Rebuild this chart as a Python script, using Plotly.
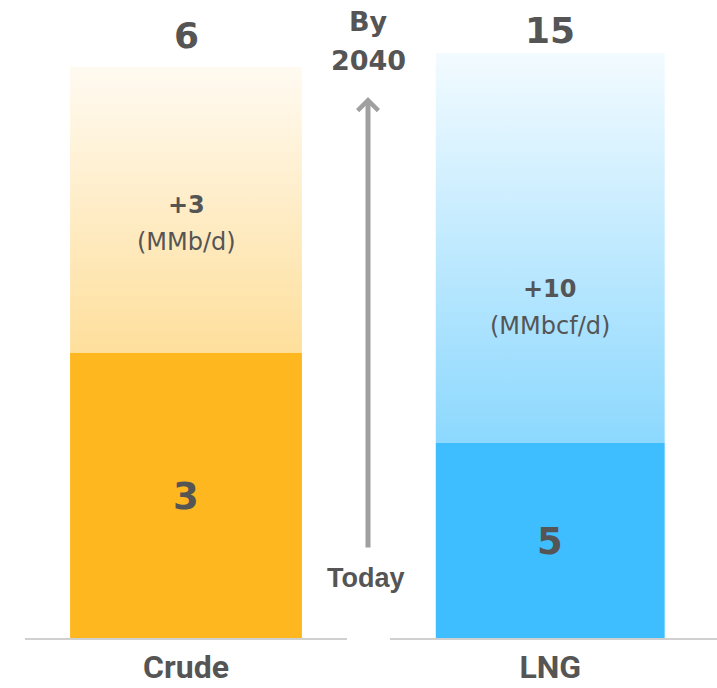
import plotly.graph_objects as go

# Export volumes: today vs. growth by 2040
categories = ["Crude", "LNG"]
today_values = [3, 5]
added_values = [3, 10]
units = ["(MMb/d)", "(MMbcf/d)"]

base_colors = ["#FFB71F", "#3EBEFE"]
grad_bottom = ["#FEDF9C", "#8CD8FE"]
grad_top = ["#FFFAF1", "#F3FBFF"]
bar_widths = [0.72, 0.70]

TEXT = "#555555"
NUM_FONT = "DejaVu Sans"
WORD_FONT = "Liberation Sans"

fig = go.Figure()

axis_ids = [("x", "y"), ("x2", "y2")]
for i, cat in enumerate(categories):
    xa, ya = axis_ids[i]
    base = today_values[i]
    total = base + added_values[i]
    w = bar_widths[i]

    # solid bar for today's level
    fig.add_trace(go.Bar(
        x=[0], y=[base], width=w, xaxis=xa, yaxis=ya,
        marker=dict(color=base_colors[i], line=dict(width=0)),
        hoverinfo="skip", showlegend=False,
    ))
    # gradient block for the growth to 2040
    fig.add_trace(go.Scatter(
        x=[-w / 2, w / 2, w / 2, -w / 2, -w / 2],
        y=[base, base, total, total, base],
        xaxis=xa, yaxis=ya, mode="lines", line=dict(width=0),
        fill="toself",
        fillgradient=dict(type="vertical",
                          colorscale=[[0, grad_bottom[i]], [1, grad_top[i]]]),
        hoverinfo="skip", showlegend=False,
    ))

    # value labels
    fig.add_annotation(x=0, y=base / 2, xref=xa, yref=ya, text=str(base),
                       showarrow=False, yshift=-1,
                       font=dict(family=NUM_FONT, size=37, color=TEXT, weight="bold"))
    fig.add_annotation(x=0, y=total, xref=xa, yref=ya, text=str(total),
                       showarrow=False, yanchor="middle",
                       yshift=[32, 23][i],
                       font=dict(family=NUM_FONT, size=36, color=TEXT, weight="bold"))
    fig.add_annotation(x=0, y=base + added_values[i] / 2, xref=xa, yref=ya,
                       text=f"+{added_values[i]}",
                       showarrow=False, yanchor="middle",
                       yshift=[5, -41][i],
                       font=dict(family=NUM_FONT, size=24, color=TEXT, weight="bold"))
    fig.add_annotation(x=0, y=base + added_values[i] / 2, xref=xa, yref=ya,
                       text=units[i],
                       showarrow=False, yanchor="middle",
                       yshift=[-32, -78][i],
                       font=dict(family=NUM_FONT, size=24, color=TEXT))

# timeline arrow between the two bars
fig.add_annotation(x=368 / 717, y=(638 - 97) / 638, xref="paper", yref="paper",
                   ax=0, ay=452, axref="pixel", ayref="pixel", text="",
                   showarrow=True, arrowhead=4, arrowsize=0.8, arrowwidth=5,
                   arrowcolor="#A0A0A0")
fig.add_annotation(x=368 / 717, y=(638 - 22) / 638, xref="paper", yref="paper",
                   text="By", showarrow=False, yanchor="middle",
                   font=dict(family=NUM_FONT, size=27, color=TEXT, weight="bold"))
fig.add_annotation(x=368 / 717, y=(638 - 60) / 638, xref="paper", yref="paper",
                   text="2040", showarrow=False, yanchor="middle",
                   font=dict(family=NUM_FONT, size=27, color=TEXT, weight="bold"))
fig.add_annotation(x=366 / 717, y=(638 - 578) / 638, xref="paper", yref="paper",
                   text="Today", showarrow=False, yanchor="middle",
                   font=dict(family=WORD_FONT, size=27, color=TEXT, weight="bold"))

xaxis_common = dict(
    showline=True, linecolor="#D0D0D0", linewidth=2, showgrid=False,
    zeroline=False, ticks="", tickvals=[0],
    tickfont=dict(family="Roboto", size=32, color=TEXT, weight="bold"),
    fixedrange=True,
)
yaxis_common = dict(visible=False, showgrid=False, zeroline=False, fixedrange=True)

fig.update_layout(
    width=717, height=688,
    margin=dict(l=0, r=0, t=0, b=50),
    paper_bgcolor="white", plot_bgcolor="white",
    barmode="overlay",
    xaxis=dict(domain=[25 / 717, 347 / 717], range=[-0.5, 0.5],
               ticktext=[categories[0]], anchor="y", **xaxis_common),
    xaxis2=dict(domain=[390 / 717, 1.0], range=[-0.49, 0.51],
                ticktext=[categories[1]], anchor="y2", **xaxis_common),
    yaxis=dict(range=[0, 6.704], anchor="x", **yaxis_common),
    yaxis2=dict(range=[0, 16.36], anchor="x2", **yaxis_common),
    showlegend=False,
)

fig.write_html("out.html")
